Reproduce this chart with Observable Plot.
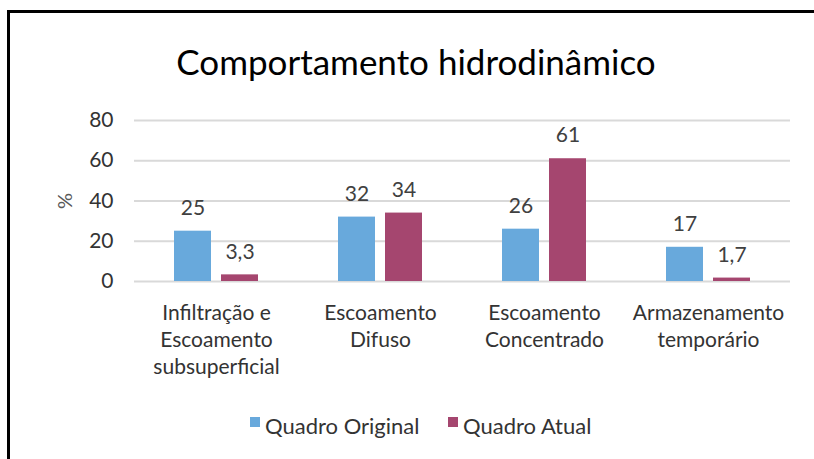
<!DOCTYPE html>
<html>
<head>
<meta charset="utf-8">
<script src="https://cdn.jsdelivr.net/npm/d3@7"></script>
<script src="https://cdn.jsdelivr.net/npm/@observablehq/plot@0.6"></script>
<style>
  html, body { margin: 0; padding: 0; background: #fff; }
  #wrap { position: relative; width: 814px; height: 459px; overflow: hidden; font-family: Lato, sans-serif; }
  #frame { position: absolute; left: 7px; top: 10px; width: 900px; height: 600px; border-left: 3px solid #000; border-top: 3px solid #000; box-sizing: border-box; }
  #title { position: absolute; left: 0; top: 42px; width: 832px; text-align: center; font-size: 35px; line-height: 38px; color: #000; }
  #chart { position: absolute; left: 0; top: 100px; }
  .leg { position: absolute; top: 412px; font-size: 22px; line-height: 27px; color: #333; white-space: nowrap; }
  .sw { position: absolute; width: 10px; height: 10px; top: 417px; }
</style>
</head>
<body>
<div id="wrap">
  <div id="frame"></div>
  <div id="title">Comportamento hidrodinâmico</div>
  <div id="chart"></div>
  <div id="legend"></div>
</div>
<script>
const categories = ["Infiltração e Escoamento subsuperficial", "Escoamento Difuso", "Escoamento Concentrado", "Armazenamento temporário"];
const categoryLabels = ["Infiltração e\nEscoamento\nsubsuperficial", "Escoamento\nDifuso", "Escoamento\nConcentrado", "Armazenamento\ntemporário"];
const series = ["Quadro Original", "Quadro Atual"];
const seriesColors = ["#68A9DC", "#A5466F"];
const valuesOriginal = [25, 32, 26, 17];
const valuesAtual = [3.3, 34, 61, 1.7];
const yTicks = [0, 20, 40, 60, 80];

const data = [];
categories.forEach((c, i) => {
  data.push({category: c, series: series[0], value: valuesOriginal[i]});
  data.push({category: c, series: series[1], value: valuesAtual[i]});
});
const labelOf = Object.fromEntries(categories.map((c, i) => [c, categoryLabels[i]]));
const fmt = v => String(v).replace(".", ",");

const chart = Plot.plot({
  width: 814,
  height: 300,
  marginTop: 20,
  marginBottom: 119,
  marginLeft: 133,
  marginRight: 24,
  style: {fontFamily: "Lato, sans-serif", fontSize: "20px", color: "#333", background: "transparent"},
  fx: {domain: categories, padding: 0, label: null, axis: null},
  x: {domain: series, paddingInner: 0.213, paddingOuter: 0.851, axis: null},
  y: {domain: [0, 80], ticks: yTicks, label: null, axis: null},
  color: {domain: series, range: seriesColors},
  marks: [
    Plot.gridY(yTicks, {stroke: "#d9d9d9", strokeOpacity: 1, strokeWidth: 2}),
    Plot.barY(data, {fx: "category", x: "series", y: "value", fill: "series"}),
    Plot.text(data, {fx: "category", x: "series", y: "value", text: d => fmt(d.value), dy: -23, fill: "#404040", fontSize: 21}),
    Plot.axisY(yTicks, {tickSize: 0, tickPadding: 21, label: null, fontSize: 21, fill: "#333"}),
    Plot.axisFx({anchor: "bottom", tickSize: 0, tickPadding: 19, label: null, fontSize: 21, lineHeight: 1.3, fill: "#333", tickFormat: d => labelOf[d]})
  ]
});
document.getElementById("chart").appendChild(chart);

// "%" axis title
const svg = d3.select(chart);
svg.append("text")
  .attr("transform", "translate(65,101) rotate(-90)")
  .attr("text-anchor", "middle")
  .attr("dy", "0.35em")
  .attr("fill", "#595959")
  .attr("font-family", "Lato, sans-serif")
  .attr("font-size", 20)
  .text("%");

// legend
const legend = document.getElementById("legend");
const legX = [[250, 265], [448, 463]];
series.forEach((s, i) => {
  const sw = document.createElement("div");
  sw.className = "sw";
  sw.style.left = legX[i][0] + "px";
  sw.style.background = seriesColors[i];
  legend.appendChild(sw);
  const t = document.createElement("div");
  t.className = "leg";
  t.style.left = legX[i][1] + "px";
  t.textContent = s;
  legend.appendChild(t);
});
</script>
</body>
</html>
